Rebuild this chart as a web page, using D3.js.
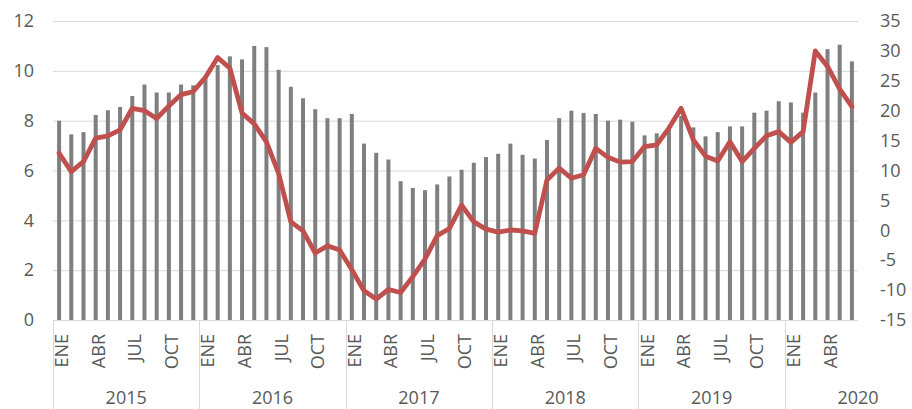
<!DOCTYPE html>
<html>
<head>
<meta charset="utf-8">
<script src="https://cdn.jsdelivr.net/npm/d3@7"></script>
<style>
  body { margin: 0; background: #fff; }
  text { font-family: 'Open Sans', 'Noto Sans', sans-serif; fill: #595959; }
</style>
</head>
<body>
<svg id="chart" width="912" height="409"></svg>
<script>
const monthNames = ['ENE', 'FEB', 'MAR', 'ABR', 'MAY', 'JUN', 'JUL', 'AGO', 'SEP', 'OCT', 'NOV', 'DIC']
const years = ['2015', '2016', '2017', '2018', '2019', '2020']
const monthsPerYear = [12, 12, 12, 12, 12, 6]

// gray bars, left axis
const barValues = [
  8.0, 7.45, 7.54, 8.23, 8.42, 8.55, 8.99, 9.45, 9.13, 9.13, 9.45, 9.42,
  9.7, 10.23, 10.58, 10.46, 11.0, 10.95, 10.04, 9.36, 8.9, 8.46, 8.1, 8.1,
  8.27, 7.08, 6.71, 6.44, 5.57, 5.3, 5.21, 5.44, 5.76, 6.03, 6.31, 6.54,
  6.67, 7.08, 6.63, 6.48, 7.22, 8.1, 8.4, 8.31, 8.27, 8.0, 8.04, 7.96,
  7.41, 7.49, 7.72, 8.19, 7.73, 7.37, 7.54, 7.77, 7.77, 8.32, 8.4, 8.78,
  8.73, 8.32, 9.13, 10.87, 11.05, 10.38
]

// red line, right axis
const lineValues = [
  12.9, 9.8, 11.5, 15.4, 15.8, 16.8, 20.4, 20.0, 18.7, 20.8, 22.7, 23.2,
  25.6, 28.9, 27.1, 19.6, 17.8, 14.8, 9.5, 1.4, -0.1, -3.8, -2.6, -3.3,
  -6.6, -10.1, -11.5, -9.9, -10.4, -7.75, -4.8, -0.9, 0.3, 4.2, 1.4, 0.2,
  -0.3, 0.05, -0.1, -0.5, 8.4, 10.4, 8.7, 9.3, 13.7, 12.2, 11.4, 11.5,
  14.0, 14.3, 17.1, 20.4, 15.1, 12.4, 11.6, 14.8, 11.5, 13.7, 15.8, 16.5,
  14.7, 16.5, 30.0, 27.4, 23.6, 20.7
]

const leftTicks = [0, 2, 4, 6, 8, 10, 12]
const rightTicks = [-15, -10, -5, 0, 5, 10, 15, 20, 25, 30, 35]

const margin = { left: 53, right: 858, top: 21, bottom: 320 }
const svg = d3.select('#chart')

// month index list
const periods = []
years.forEach((y, yi) => {
  for (let m = 0; m < monthsPerYear[yi]; m++) {
    periods.push({ year: y, month: monthNames[m], m: m })
  }
})

const x = d3.scaleBand().domain(d3.range(periods.length)).range([margin.left, margin.right])
const yLeft = d3.scaleLinear().domain([0, 12]).range([margin.bottom, margin.top])
const yRight = d3.scaleLinear().domain([-15, 35]).range([margin.bottom, margin.top])
const cx = i => x(i) + x.bandwidth() / 2
const plain = d => String(d)

// gridlines
svg.append('g')
  .selectAll('line')
  .data(leftTicks)
  .join('line')
  .attr('x1', margin.left)
  .attr('x2', margin.right)
  .attr('y1', d => yLeft(d) + 0.5)
  .attr('y2', d => yLeft(d) + 0.5)
  .attr('stroke', '#d9d9d9')
  .attr('stroke-width', 1)

// left axis
const leftAxis = svg.append('g')
  .attr('transform', `translate(${margin.left - 19},0)`)
  .call(d3.axisLeft(yLeft).tickValues(leftTicks).tickFormat(plain).tickSize(0).tickPadding(0))
leftAxis.select('.domain').remove()
leftAxis.selectAll('text').style('font-size', '18px').attr('fill', '#595959')

// right axis
const rightAxis = svg.append('g')
  .attr('transform', `translate(${margin.right + 22},0)`)
  .call(d3.axisRight(yRight).tickValues(rightTicks).tickFormat(plain).tickSize(0).tickPadding(0))
rightAxis.select('.domain').remove()
rightAxis.selectAll('text').style('font-size', '18px').attr('fill', '#595959')

// bars
svg.append('g')
  .selectAll('rect')
  .data(barValues)
  .join('rect')
  .attr('x', (d, i) => cx(i) - 2)
  .attr('width', 4)
  .attr('y', d => yLeft(d))
  .attr('height', d => yLeft(0) - yLeft(d))
  .attr('fill', '#7f7f7f')

// category axis baseline
svg.append('line')
  .attr('x1', margin.left)
  .attr('x2', margin.right)
  .attr('y1', margin.bottom + 0.5)
  .attr('y2', margin.bottom + 0.5)
  .attr('stroke', '#d9d9d9')

// year separators
let start = 0
const yearBounds = years.map((y, yi) => {
  const b = { year: y, from: start, to: start + monthsPerYear[yi] }
  start += monthsPerYear[yi]
  return b
})
svg.append('g')
  .selectAll('line')
  .data(yearBounds)
  .join('line')
  .attr('x1', d => Math.round(x(d.from)) + 0.5)
  .attr('x2', d => Math.round(x(d.from)) + 0.5)
  .attr('y1', margin.bottom)
  .attr('y2', 409)
  .attr('stroke', '#d9d9d9')

// month labels (every third month)
svg.append('g')
  .selectAll('text')
  .data(periods.map((p, i) => ({ ...p, i })).filter(p => p.m % 3 === 0))
  .join('text')
  .attr('transform', d => `translate(${cx(d.i) + 2},${margin.bottom + 14}) rotate(-90)`)
  .attr('text-anchor', 'end')
  .attr('dominant-baseline', 'central')
  .style('font-size', '18px')
  .text(d => d.month)

// year labels, centred on a full twelve-month slot
svg.append('g')
  .selectAll('text')
  .data(yearBounds)
  .join('text')
  .attr('x', d => x(d.from) + x.bandwidth() * 6)
  .attr('y', 404)
  .attr('text-anchor', 'middle')
  .style('font-size', '18px')
  .text(d => d.year)

// red line
const line = d3.line()
  .x((d, i) => cx(i))
  .y(d => yRight(d))

svg.append('path')
  .datum(lineValues)
  .attr('d', line)
  .attr('fill', 'none')
  .attr('stroke', '#c0504d')
  .attr('stroke-width', 4.8)
  .attr('stroke-linejoin', 'round')
  .attr('stroke-linecap', 'round')
</script>
</body>
</html>
